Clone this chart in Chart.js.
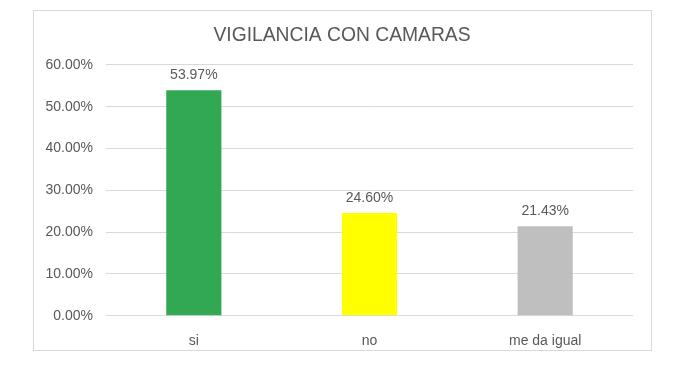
<!DOCTYPE html>
<html>
<head>
<meta charset="utf-8">
<script src="https://cdn.jsdelivr.net/npm/chart.js@4.4.1/dist/chart.umd.min.js"></script>
<style>
  html, body { margin: 0; padding: 0; background: #ffffff; }
  #wrap { width: 692px; height: 371px; position: relative; }
</style>
</head>
<body>
<div id="wrap"><canvas id="c" width="692" height="371"></canvas></div>
<script>
const categories = ["si", "no", "me da igual"];
const values = [53.97, 24.60, 21.43];
const barColors = ["#33A852", "#FFFF00", "#BFBFBF"];
const titleText = "VIGILANCIA CON CAMARAS";
const yMax = 60;
const yStep = 10;

const FONT = "'Liberation Sans', Arial, sans-serif";
const TEXT = "#595959";

const frame = {
  id: 'frame',
  beforeDraw(chart) {
    const ctx = chart.ctx;
    ctx.save();
    ctx.fillStyle = '#ffffff';
    ctx.fillRect(0, 0, chart.width, chart.height);
    ctx.strokeStyle = '#D9D9D9';
    ctx.lineWidth = 1;
    ctx.strokeRect(33.5, 10.5, 618, 340);
    ctx.restore();
  }
};

const dataLabels = {
  id: 'dataLabels',
  afterDatasetsDraw(chart) {
    const ctx = chart.ctx;
    const meta = chart.getDatasetMeta(0);
    ctx.save();
    ctx.font = "14px " + FONT;
    ctx.fillStyle = TEXT;
    ctx.textAlign = 'center';
    ctx.textBaseline = 'middle';
    meta.data.forEach((bar, i) => {
      ctx.fillText(values[i].toFixed(2) + '%', bar.x, bar.y - 15);
    });
    ctx.restore();
  }
};

new Chart(document.getElementById('c'), {
  type: 'bar',
  data: {
    labels: categories,
    datasets: [{
      data: values,
      backgroundColor: barColors,
      borderWidth: 0,
      categoryPercentage: 1,
      barPercentage: 0.314
    }]
  },
  options: {
    responsive: false,
    animation: false,
    devicePixelRatio: 1,
    layout: { padding: { left: 33, right: 41, top: 10, bottom: 20 } },
    plugins: {
      legend: { display: false },
      tooltip: { enabled: false },
      title: {
        display: true,
        text: titleText,
        color: TEXT,
        font: { family: FONT, size: 19.3, weight: 'normal', lineHeight: 1.2 },
        padding: { top: 14.4, bottom: 17.4 }
      }
    },
    scales: {
      x: {
        grid: { display: false },
        border: { display: false },
        ticks: { color: TEXT, font: { family: FONT, size: 14 }, padding: 9 },
        afterFit(s) { s.height = 35.3; }
      },
      y: {
        min: 0,
        max: yMax,
        grid: { color: '#D9D9D9', drawTicks: false, lineWidth: 1 },
        border: { display: false },
        ticks: {
          stepSize: yStep,
          color: TEXT,
          padding: 13,
          font: { family: FONT, size: 14 },
          callback: v => v.toFixed(2) + '%'
        },
        afterFit(s) { s.width = 73; }
      },
      y2: {
        position: 'right',
        display: true,
        grid: { display: false },
        border: { display: false },
        ticks: { display: false },
        afterFit(s) { s.width = 18; }
      }
    }
  },
  plugins: [frame, dataLabels]
});
</script>
</body>
</html>
